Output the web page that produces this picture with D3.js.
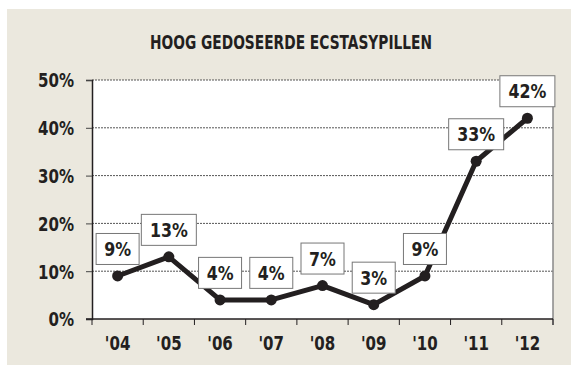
<!DOCTYPE html>
<html>
<head>
<meta charset="utf-8">
<script src="https://cdn.jsdelivr.net/npm/d3@7"></script>
<style>
  html, body { margin: 0; padding: 0; background: #fff; }
  svg { display: block; }
  text { font-family: "DejaVu Sans Condensed", "DejaVu Sans", sans-serif; font-stretch: condensed; font-weight: bold; fill: #231f20; }
</style>
</head>
<body>
<script>
// Share of high-dose ecstasy pills per year
const years = ["'04", "'05", "'06", "'07", "'08", "'09", "'10", "'11", "'12"];
const shares = [9, 13, 4, 4, 7, 3, 9, 33, 42];
const yTicks = [0, 10, 20, 30, 40, 50];
const title = "HOOG GEDOSEERDE ECSTASYPILLEN";

const W = 571, H = 365;
const plot = { left: 92, right: 553, top: 80, bottom: 319 };
const squeeze = 0.88; // horizontal condensing of labels

const svg = d3.select("body").append("svg").attr("width", W).attr("height", H);

// beige panel
svg.append("rect").attr("x", 7).attr("y", 9).attr("width", W - 7).attr("height", H - 9)
  .attr("fill", "#ebe8de");

svg.append("text").attr("x", 291).attr("y", 49).attr("text-anchor", "middle")
  .attr("font-size", 19).attr("textLength", 282).attr("lengthAdjust", "spacingAndGlyphs")
  .text(title);

const x = d3.scaleBand().domain(years).range([plot.left, plot.right]).padding(0);
const y = d3.scaleLinear().domain([0, 50]).range([plot.bottom, plot.top]);

// plot background
svg.append("rect").attr("x", plot.left).attr("y", plot.top)
  .attr("width", plot.right - plot.left).attr("height", plot.bottom - plot.top)
  .attr("fill", "#fff");

// dotted gridlines
svg.append("g").selectAll("line").data(yTicks.filter(d => d > 0)).join("line")
  .attr("x1", plot.left).attr("x2", plot.right)
  .attr("y1", d => y(d)).attr("y2", d => y(d))
  .attr("stroke", "#555").attr("stroke-width", 1).attr("stroke-dasharray", "2,1");

// right border
svg.append("line").attr("x1", plot.right).attr("x2", plot.right)
  .attr("y1", plot.top).attr("y2", plot.bottom + 6)
  .attr("stroke", "#888").attr("stroke-width", 1.5);

// y axis
const yAxis = svg.append("g").attr("transform", `translate(${plot.left},0)`)
  .call(d3.axisLeft(y).tickValues(yTicks).tickSize(6).tickPadding(0)
    .tickFormat(d => d + "%"));
yAxis.select(".domain").attr("stroke", "#231f20").attr("stroke-width", 1.5);
yAxis.selectAll(".tick line").attr("stroke", "#444");
yAxis.selectAll(".tick text").attr("font-size", 19).attr("font-family", null)
  .attr("x", null).attr("dy", "0.36em")
  .attr("transform", `translate(-18,0) scale(${squeeze},1)`)
  .style("fill", "#231f20");

// x axis: baseline with ticks on category boundaries
const g = svg.append("g");
g.append("line").attr("x1", plot.left - 6).attr("x2", plot.right)
  .attr("y1", plot.bottom).attr("y2", plot.bottom)
  .attr("stroke", "#231f20").attr("stroke-width", 1.5);
const bounds = years.map(d => x(d)).concat([x.range()[1]]);
g.selectAll("line.tk").data(bounds).join("line").attr("class", "tk")
  .attr("x1", d => d).attr("x2", d => d)
  .attr("y1", plot.bottom).attr("y2", plot.bottom + 6)
  .attr("stroke", "#231f20").attr("stroke-width", 1);
g.selectAll("text").data(years).join("text")
  .attr("transform", d => `translate(${x(d) + x.bandwidth() / 2},350) scale(${squeeze},1)`)
  .attr("text-anchor", "middle").attr("font-size", 19)
  .text(d => d);

const cx = (d, i) => x(years[i]) + x.bandwidth() / 2;

// line
svg.append("path").datum(shares)
  .attr("d", d3.line().x(cx).y(d => y(d)))
  .attr("fill", "none").attr("stroke", "#231f20").attr("stroke-width", 5)
  .attr("stroke-linejoin", "round");

svg.append("g").selectAll("circle").data(shares).join("circle")
  .attr("cx", cx).attr("cy", d => y(d)).attr("r", 5.5).attr("fill", "#231f20");

// value labels in boxes
const lab = svg.append("g").selectAll("g").data(shares).join("g")
  .attr("transform", (d, i) => `translate(${cx(d, i)},${y(d) - 27})`);
lab.append("rect")
  .attr("x", d => -(String(d).length > 1 ? 27.5 : 21.5))
  .attr("width", d => String(d).length > 1 ? 55 : 43)
  .attr("y", -15.5).attr("height", 31)
  .attr("fill", "#fff").attr("stroke", "#777").attr("stroke-width", 1);
lab.append("text").attr("text-anchor", "middle")
  .attr("transform", `translate(0,7) scale(${squeeze},1)`)
  .attr("font-size", 20).text(d => d + "%");
</script>
</body>
</html>
